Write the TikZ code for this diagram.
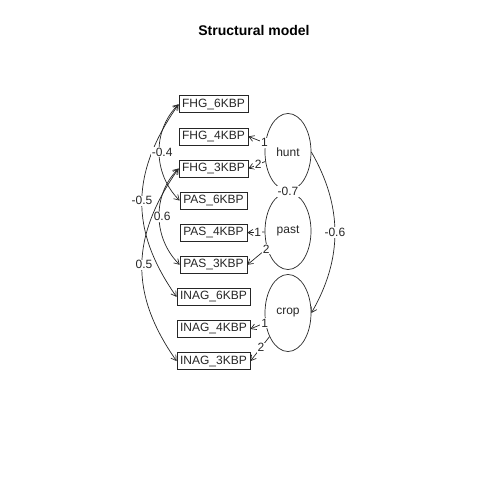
\documentclass[tikz,border=0pt]{standalone}
\usepackage{fontspec}
\setmainfont{Liberation Sans}
\usetikzlibrary{shapes.geometric,arrows.meta}

\begin{document}
\begin{tikzpicture}[x=1pt,y=1pt,>={Straight Barb[length=5pt,width=6pt]},
    color=black!85,line width=0.7pt,
    manifest/.style={draw,rectangle,inner xsep=3.2pt,inner ysep=0pt,minimum height=17pt,font=\fontsize{12}{14}\selectfont},
    latent/.style={draw,ellipse,inner sep=0pt,minimum width=46pt,minimum height=77pt,font=\fontsize{12}{14}\selectfont},
    lbl/.style={fill=white,inner sep=0.8pt,font=\fontsize{12}{14}\selectfont}]
    \useasboundingbox (0,0) rectangle (480,480);
    \node[font=\bfseries\fontsize{14}{16}\selectfont,text=black] (title) at (254,450) {Structural model};
    % indicators
    \node[manifest] (fhg6) at (213.5,375.7) {FHG\_6KBP};
    \node[manifest] (fhg4) at (213.5,343.6) {FHG\_4KBP};
    \node[manifest] (fhg3) at (213.5,311.5) {FHG\_3KBP};
    \node[manifest] (pas6) at (213.5,279.4) {PAS\_6KBP};
    \node[manifest] (pas4) at (213.5,247.3) {PAS\_4KBP};
    \node[manifest] (pas3) at (213.5,215.2) {PAS\_3KBP};
    \node[manifest] (inag6) at (213.5,183.1) {INAG\_6KBP};
    \node[manifest] (inag4) at (213.5,151) {INAG\_4KBP};
    \node[manifest] (inag3) at (213.5,118.9) {INAG\_3KBP};
    % factors
    \node[latent] (hunt) at (288,328) {hunt};
    \node[latent] (past) at (288,249) {past};
    \node[latent] (crop) at (288,167) {crop};
    % loadings
    \draw[->] (hunt) -- node[lbl,pos=0.05] {1} (fhg4.east);
    \draw[->] (hunt) -- node[lbl,pos=0.42] {2} (fhg3.east);
    \draw[->] (past) -- node[lbl,pos=0.4] {1} (pas4.east);
    \draw[->] (past) -- node[lbl,pos=0.05] {2} (pas3.east);
    \draw[->] (crop) -- node[lbl,pos=0.05] {1} (inag4.east);
    \draw[->] (crop) -- node[lbl,pos=0.45] {2} (inag3.east);
    % factor covariances
    \draw[<->] (hunt) -- node[lbl] {-0.7} (past);
    \draw[->] (hunt.east) to[out=-60,in=60] node[lbl] {-0.6} (crop.east);
    % residual covariances
    \draw[<->] (fhg6.west) to[out=235,in=125,looseness=1.1] node[lbl] {-0.5} (inag6.west);
    \draw[<->] (fhg6.west) to[out=225,in=135] node[lbl,xshift=3pt] {-0.4} (pas6.west);
    \draw[<->] (fhg3.west) to[out=225,in=135] node[lbl,xshift=3pt] {0.6} (pas3.west);
    \draw[<->] (fhg3.west) to[out=235,in=125,looseness=1.1] node[lbl,xshift=2pt] {0.5} (inag3.west);
\end{tikzpicture}
\end{document}
